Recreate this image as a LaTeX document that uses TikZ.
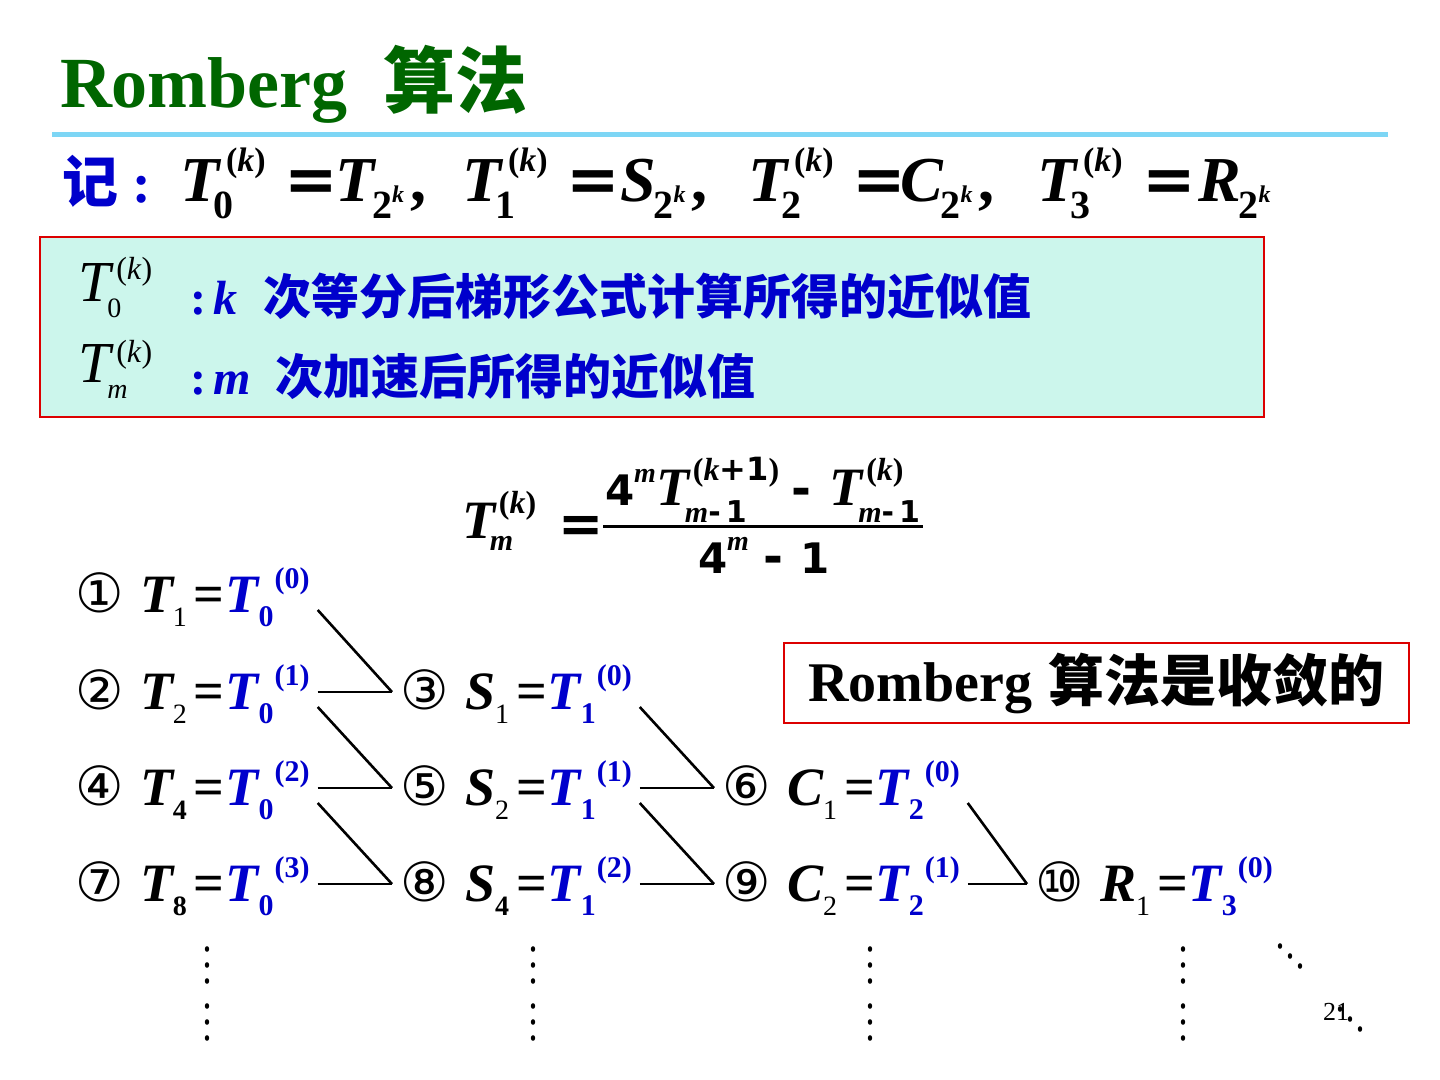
\documentclass[tikz,border=0pt]{standalone}
\usepackage{fontspec}
\setmainfont{Liberation Serif}
\newfontfamily\cjk{Noto Sans CJK SC}
\newfontfamily\dvs{DejaVu Sans}
\definecolor{tgreen}{RGB}{0,102,0}
\definecolor{tblue}{RGB}{0,0,204}
\definecolor{lineblue}{RGB}{125,214,245}
\definecolor{mint}{RGB}{204,246,236}
\definecolor{boxred}{RGB}{220,0,0}
\newcommand\fsz[1]{\fontsize{#1}{#1}\selectfont}
\newcommand\subsup[4]{\setbox0=\hbox{\raisebox{-#3}{#1}}\setbox2=\hbox{\raisebox{#4}{#2}}\ifdim\wd0>\wd2 \rlap{\box2}\box0 \else\rlap{\box0}\box2 \fi}
% definition line pieces
\newcommand\Tdef[1]{{\fsz{32}\bfseries\itshape T}\subsup{\kern-3pt\fsz{20}\bfseries #1}{\kern3.5pt\fsz{17}\bfseries(\textit{k})}{8.5pt}{15pt}}
\newcommand\Rdef[2]{{\fsz{32}\bfseries\itshape #1}\raisebox{-8.5pt}{\kern-1pt\fsz{20}\bfseries 2\raisebox{8pt}{\fsz{12}\bfseries\itshape k}}\kern3pt{\fsz{32}\bfseries #2}}
% table entry
\newcommand\ent[5]{\makebox[32.5pt][l]{\dvs\fsz{27}#1}{\fsz{27}\bfseries\itshape #2}\raisebox{-7pt}{\fsz{14}#3}\hspace{3.5pt}{\fsz{27}\bfseries =}\hspace{0.5pt}{\color{tblue}{\fsz{27}\bfseries\itshape T}\raisebox{-7pt}{\fsz{15}\bfseries #4}\kern0.5pt\raisebox{12pt}{\fsz{15}\bfseries(#5)}}}
\newcommand\mmone{\fsz{15}\bfseries\itshape m{\dvs\upshape-}\,{\dvs\upshape 1}}
\tikzset{
  base/.style={anchor=base west, inner sep=0pt, outer sep=0pt},
  conn/.style={line width=1.3pt, black},
  dot/.style={fill=black}
}
\begin{document}
\begin{tikzpicture}[x=0.5pt, y=-0.5pt]
\useasboundingbox (0,0) rectangle (1440,1080);
\fill[white] (0,0) rectangle (1440,1080);
% title
\node[base, text=tgreen, font=\fsz{36}\bfseries] (title) at (60,108) {Romberg\hspace{18pt}{\cjk\bfseries 算法}};
\draw[line width=2.5pt, lineblue] (52,134.5) -- (1388,134.5);
% definition line
\node[base, text=tblue, font=\fsz{28}\bfseries] (ji) at (62,203) {{\cjk 记}\hspace{7pt}:};
\node[base] (d1) at (180,202) {\Tdef{0}};
\node[base, font=\dvs\bfseries\fsz{32}] (q1) at (284,202) {=};
\node[base] (r1) at (335,202) {\Rdef{T}{,}};
\node[base] (d2) at (462,202) {\Tdef{1}};
\node[base, font=\dvs\bfseries\fsz{32}] (q2) at (566,202) {=};
\node[base] (r2) at (620,202) {\Rdef{S}{,}};
\node[base] (d3) at (748,202) {\Tdef{2}};
\node[base, font=\dvs\bfseries\fsz{32}] (q3) at (852,202) {=};
\node[base] (r3) at (900,202) {\Rdef{C}{,}};
\node[base] (d4) at (1037,202) {\Tdef{3}};
\node[base, font=\dvs\bfseries\fsz{32}] (q4) at (1142,202) {=};
\node[base] (r4) at (1198,202) {\Rdef{R}{}};
% definition box
\draw[boxred, line width=1pt, fill=mint] (40,237) rectangle (1264,417);
\node[base] (b1T) at (78,302) {{\fsz{29}\itshape T}\subsup{\kern-1.5pt\fsz{14}0}{\kern3pt\fsz{16}(\textit{k})}{8pt}{11pt}};
\node[base, text=tblue] (b1t) at (190,315) {{\fsz{24}\bfseries :\,\textit{k}}\hspace{13pt}{\cjk\bfseries\fsz{24}次等分后梯形公式计算所得的近似值}};
\node[base] (b2T) at (78,383) {{\fsz{29}\itshape T}\subsup{\kern-1.5pt\fsz{14}\itshape m}{\kern3pt\fsz{16}(\textit{k})}{8pt}{10pt}};
\node[base, text=tblue] (b2t) at (190,395) {{\fsz{24}\bfseries :\,\textit{m}}\hspace{12pt}{\cjk\bfseries\fsz{24}次加速后所得的近似值}};
% formula
\node[base] (lhs) at (462,538) {{\fsz{27}\bfseries\itshape T}\subsup{\kern-2.5pt\fsz{15}\bfseries\itshape m}{\kern2pt\fsz{16}\bfseries(\textit{k})}{6pt}{12.5pt}};
\node[base, font=\dvs\bfseries\fsz{27}] (feq) at (558,542) {=};
\node[base] (num) at (605,505) {{\dvs\bfseries\fsz{21}4}\raisebox{11.5pt}{\fsz{14}\bfseries\itshape m}{\fsz{27}\bfseries\itshape T}\subsup{\kern-2pt\mmone}{\kern2pt\fsz{16}\bfseries(\textit{k}{\dvs+}{\dvs 1})}{8.5pt}{12.5pt}\hspace{6pt}{\dvs\bfseries\fsz{24}-}\hspace{9pt}{\fsz{27}\bfseries\itshape T}\subsup{\kern-2pt\mmone}{\kern2pt\fsz{16}\bfseries(\textit{k})}{8.5pt}{12.5pt}};
\node[base] (den) at (698,573) {{\dvs\bfseries\fsz{21}4}\raisebox{11.5pt}{\fsz{14}\bfseries\itshape m}\hspace{7pt}{\dvs\bfseries\fsz{24}-}\hspace{9pt}{\dvs\bfseries\fsz{21}1}};
\draw[line width=1.5pt] (603,526) -- (923,526);
% table
\node[base] (e11) at (75,612) {\ent{①}{T}{1}{0}{0}};
\node[base] (e21) at (75,709) {\ent{②}{T}{2}{0}{1}};
\node[base] (e31) at (75,805) {\ent{④}{T}{\bfseries 4}{0}{2}};
\node[base] (e41) at (75,901) {\ent{⑦}{T}{\bfseries 8}{0}{3}};
\node[base] (e22) at (400,709) {\ent{③}{S}{1}{1}{0}};
\node[base] (e32) at (400,805) {\ent{⑤}{S}{2}{1}{1}};
\node[base] (e42) at (400,901) {\ent{⑧}{S}{\bfseries 4}{1}{2}};
\node[base] (e33) at (722,805) {\ent{⑥}{C}{1}{2}{0}};
\node[base] (e43) at (722,901) {\ent{⑨}{C}{2}{2}{1}};
\node[base] (e44) at (1035,901) {\ent{⑩}{R}{1}{3}{0}};
% connectors
\draw[conn] ([xshift=4pt,yshift=1pt]e11.base east) -- ([xshift=-4pt,yshift=8.5pt]e22.base west);
\draw[conn] ([xshift=4pt,yshift=8.5pt]e21.base east) -- ([xshift=-4pt,yshift=8.5pt]e22.base west);
\draw[conn] ([xshift=4pt,yshift=1pt]e21.base east) -- ([xshift=-4pt,yshift=8.5pt]e32.base west);
\draw[conn] ([xshift=4pt,yshift=8.5pt]e31.base east) -- ([xshift=-4pt,yshift=8.5pt]e32.base west);
\draw[conn] ([xshift=4pt,yshift=1pt]e31.base east) -- ([xshift=-4pt,yshift=8.5pt]e42.base west);
\draw[conn] ([xshift=4pt,yshift=8.5pt]e41.base east) -- ([xshift=-4pt,yshift=8.5pt]e42.base west);
\draw[conn] ([xshift=4pt,yshift=1pt]e22.base east) -- ([xshift=-4pt,yshift=8.5pt]e33.base west);
\draw[conn] ([xshift=4pt,yshift=8.5pt]e32.base east) -- ([xshift=-4pt,yshift=8.5pt]e33.base west);
\draw[conn] ([xshift=4pt,yshift=1pt]e32.base east) -- ([xshift=-4pt,yshift=8.5pt]e43.base west);
\draw[conn] ([xshift=4pt,yshift=8.5pt]e42.base east) -- ([xshift=-4pt,yshift=8.5pt]e43.base west);
\draw[conn] ([xshift=4pt,yshift=1pt]e33.base east) -- ([xshift=-4pt,yshift=8.5pt]e44.base west);
\draw[conn] ([xshift=4pt,yshift=8.5pt]e43.base east) -- ([xshift=-4pt,yshift=8.5pt]e44.base west);
% convergence box
\node[draw=boxred, line width=1pt, anchor=north west, minimum width=312.5pt, minimum height=40pt, inner sep=0pt, font=\fsz{28}\bfseries] (conv) at (783,642) {Romberg\hspace{8pt}{\cjk\bfseries 算法是收敛的}};
% dots
\foreach \x in {207,533,870,1183}
  \foreach \y in {949,965,981,1006,1022,1038}
    \fill[dot] (\x,\y) ellipse [x radius=1.1pt, y radius=1.4pt];
\foreach \p in {(1280,946),(1290,956),(1300,966),(1340,1009),(1350,1019),(1360,1029)}
  \fill[dot] \p ellipse [x radius=1.1pt, y radius=1.4pt];
\node[base, font=\fsz{13}] (pg) at (1323,1020) {21};
\end{tikzpicture}
\end{document}
